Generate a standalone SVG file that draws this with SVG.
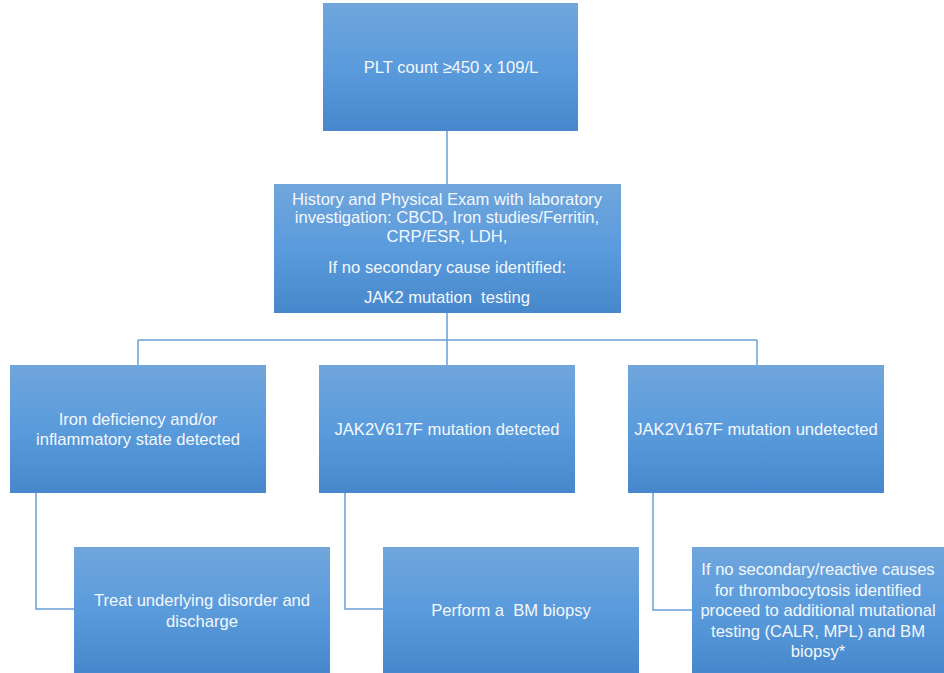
<svg xmlns="http://www.w3.org/2000/svg" width="944" height="673" viewBox="0 0 944 673">
<defs>
<linearGradient id="g" x1="0" y1="0" x2="0" y2="1">
<stop offset="0" stop-color="#70a6dc"/>
<stop offset="0.5" stop-color="#5a9bdc"/>
<stop offset="1" stop-color="#4688cb"/>
</linearGradient>
</defs>
<style>
.box{fill:url(#g);}
.t{font-family:"Liberation Sans",Arial,sans-serif;font-size:16.6px;fill:#f4f8fc;text-anchor:middle;white-space:pre;}
.c{fill:none;stroke:#6b9fd3;stroke-width:1.5;}
</style>
<rect width="944" height="673" fill="#ffffff"/>
<g id="connectors">
<path class="c" d="M447 130V184"/>
<path class="c" d="M447 313V340M138 340H757M138 340V365M447 340V365M757 340V365"/>
<path class="c" d="M36 493V609H74"/>
<path class="c" d="M345 493V609H383"/>
<path class="c" d="M653 493V610H692"/>
</g>
<g id="n1"><rect class="box" x="323" y="3" width="255" height="128"/>
<text class="t" x="451" y="73">PLT count ≥450 x 109/L</text></g>
<g id="n2"><rect class="box" x="274" y="184" width="347" height="129"/>
<text class="t" x="447" y="205">History and Physical Exam with laboratory</text>
<text class="t" x="447" y="223">investigation: CBCD, Iron studies/Ferritin,</text>
<text class="t" x="447" y="242">CRP/ESR, LDH,</text>
<text class="t" x="447" y="273">If no secondary cause identified:</text>
<text class="t" x="447" y="303" xml:space="preserve">JAK2 mutation  testing</text></g>
<g id="n3"><rect class="box" x="10" y="365" width="256" height="128"/>
<text class="t" x="138" y="425">Iron deficiency and/or</text>
<text class="t" x="138" y="445">inflammatory state detected</text></g>
<g id="n4"><rect class="box" x="319" y="365" width="256" height="128"/>
<text class="t" x="447" y="435">JAK2V617F mutation detected</text></g>
<g id="n5"><rect class="box" x="628" y="365" width="256" height="128"/>
<text class="t" x="756" y="435">JAK2V167F mutation undetected</text></g>
<g id="n6"><rect class="box" x="74" y="547" width="256" height="126"/>
<text class="t" x="202" y="606">Treat underlying disorder and</text>
<text class="t" x="202" y="627">discharge</text></g>
<g id="n7"><rect class="box" x="383" y="547" width="256" height="126"/>
<text class="t" x="511" y="616" xml:space="preserve">Perform a  BM biopsy</text></g>
<g id="n8"><rect class="box" x="692" y="547" width="256" height="126"/>
<text class="t" x="818" y="575">If no secondary/reactive causes</text>
<text class="t" x="818" y="596">for thrombocytosis identified</text>
<text class="t" x="818" y="616">proceed to additional mutational</text>
<text class="t" x="818" y="637">testing (CALR, MPL) and BM</text>
<text class="t" x="818" y="657">biopsy*</text></g>
</svg>
